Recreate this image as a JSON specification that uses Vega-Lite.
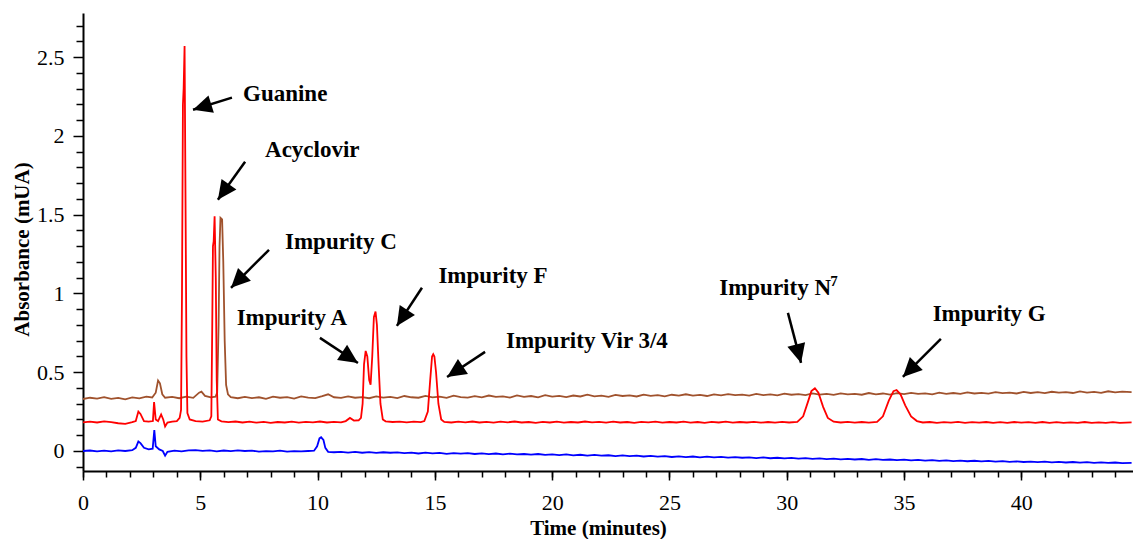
{
  "$schema": "https://vega.github.io/schema/vega-lite/v6.json",
  "autosize": {"type": "none"},
  "padding": {"left": 83, "top": 13, "right": 0, "bottom": 68},
  "width": 1050,
  "height": 458,
  "background": "white",
  "config": {"view": {"stroke": null}, "axis": {"labelFont": "'Liberation Serif', 'Times New Roman', serif", "titleFont": "'Liberation Serif', serif"}, "font": "'Liberation Serif', serif"},
  "datasets": {
    "brown": [
      {"t":0.0,"a":0.330},{"t":0.3,"a":0.338},{"t":0.6,"a":0.333},{"t":0.9,"a":0.342},{"t":1.2,"a":0.331},{"t":1.5,"a":0.337},{"t":1.8,"a":0.328},{"t":2.1,"a":0.340},{"t":2.4,"a":0.334},{"t":2.7,"a":0.345},{"t":2.95,"a":0.340},{"t":3.1,"a":0.37},{"t":3.2,"a":0.447},{"t":3.28,"a":0.43},{"t":3.38,"a":0.36},{"t":3.5,"a":0.338},{"t":3.8,"a":0.343},{"t":4.1,"a":0.335},{"t":4.4,"a":0.345},{"t":4.7,"a":0.337},{"t":4.95,"a":0.37},{"t":5.05,"a":0.377},{"t":5.2,"a":0.35},{"t":5.45,"a":0.34},{"t":5.65,"a":0.345},{"t":5.72,"a":0.37},{"t":5.78,"a":0.8},{"t":5.82,"a":1.3},{"t":5.86,"a":1.48},{"t":5.93,"a":1.47},{"t":5.98,"a":1.2},{"t":6.04,"a":0.7},{"t":6.1,"a":0.42},{"t":6.18,"a":0.36},{"t":6.3,"a":0.342},{"t":6.6,"a":0.335},{"t":6.9,"a":0.344},{"t":7.2,"a":0.336},{"t":7.5,"a":0.341},{"t":7.8,"a":0.331},{"t":8.1,"a":0.345},{"t":8.4,"a":0.338},{"t":8.7,"a":0.342},{"t":9.0,"a":0.333},{"t":9.3,"a":0.347},{"t":9.6,"a":0.339},{"t":9.9,"a":0.336},{"t":10.2,"a":0.348},{"t":10.45,"a":0.36},{"t":10.7,"a":0.341},{"t":11.0,"a":0.337},{"t":11.3,"a":0.346},{"t":11.6,"a":0.338},{"t":11.9,"a":0.342},{"t":12.2,"a":0.335},{"t":12.5,"a":0.347},{"t":12.8,"a":0.339},{"t":13.1,"a":0.344},{"t":13.4,"a":0.336},{"t":13.7,"a":0.349},{"t":14.0,"a":0.341},{"t":14.3,"a":0.338},{"t":14.6,"a":0.35},{"t":14.9,"a":0.34},{"t":15.2,"a":0.345},{"t":15.5,"a":0.337},{"t":15.8,"a":0.351},{"t":16.1,"a":0.342},{"t":16.4,"a":0.339},{"t":16.7,"a":0.348},{"t":17.0,"a":0.341},{"t":17.3,"a":0.352},{"t":17.6,"a":0.343},{"t":17.9,"a":0.347},{"t":18.2,"a":0.339},{"t":18.5,"a":0.353},{"t":18.8,"a":0.344},{"t":19.1,"a":0.349},{"t":19.4,"a":0.341},{"t":19.7,"a":0.354},{"t":20.0,"a":0.345},{"t":20.3,"a":0.35},{"t":20.6,"a":0.342},{"t":20.9,"a":0.352},{"t":21.2,"a":0.346},{"t":21.5,"a":0.357},{"t":21.8,"a":0.347},{"t":22.1,"a":0.351},{"t":22.4,"a":0.344},{"t":22.7,"a":0.356},{"t":23.0,"a":0.349},{"t":23.3,"a":0.353},{"t":23.6,"a":0.346},{"t":23.9,"a":0.358},{"t":24.2,"a":0.35},{"t":24.5,"a":0.355},{"t":24.8,"a":0.347},{"t":25.1,"a":0.357},{"t":25.4,"a":0.351},{"t":25.7,"a":0.36},{"t":26.0,"a":0.352},{"t":26.3,"a":0.356},{"t":26.6,"a":0.349},{"t":26.9,"a":0.359},{"t":27.2,"a":0.353},{"t":27.5,"a":0.361},{"t":27.8,"a":0.354},{"t":28.1,"a":0.358},{"t":28.4,"a":0.351},{"t":28.7,"a":0.362},{"t":29.0,"a":0.355},{"t":29.3,"a":0.359},{"t":29.6,"a":0.353},{"t":29.9,"a":0.364},{"t":30.2,"a":0.357},{"t":30.5,"a":0.361},{"t":30.8,"a":0.355},{"t":31.1,"a":0.365},{"t":31.4,"a":0.358},{"t":31.7,"a":0.362},{"t":32.0,"a":0.356},{"t":32.3,"a":0.366},{"t":32.6,"a":0.359},{"t":32.9,"a":0.363},{"t":33.2,"a":0.357},{"t":33.5,"a":0.368},{"t":33.8,"a":0.36},{"t":34.1,"a":0.365},{"t":34.4,"a":0.358},{"t":34.7,"a":0.367},{"t":35.0,"a":0.361},{"t":35.3,"a":0.369},{"t":35.6,"a":0.362},{"t":35.9,"a":0.366},{"t":36.2,"a":0.36},{"t":36.5,"a":0.37},{"t":36.8,"a":0.363},{"t":37.1,"a":0.368},{"t":37.4,"a":0.362},{"t":37.7,"a":0.372},{"t":38.0,"a":0.365},{"t":38.3,"a":0.369},{"t":38.6,"a":0.364},{"t":38.9,"a":0.374},{"t":39.2,"a":0.367},{"t":39.5,"a":0.371},{"t":39.8,"a":0.365},{"t":40.1,"a":0.375},{"t":40.4,"a":0.368},{"t":40.7,"a":0.373},{"t":41.0,"a":0.367},{"t":41.3,"a":0.376},{"t":41.6,"a":0.37},{"t":41.9,"a":0.374},{"t":42.2,"a":0.368},{"t":42.5,"a":0.378},{"t":42.8,"a":0.371},{"t":43.1,"a":0.375},{"t":43.4,"a":0.369},{"t":43.7,"a":0.379},{"t":44.0,"a":0.372},{"t":44.3,"a":0.377},{"t":44.7,"a":0.374}
    ],
    "red": [
      {"t":0.0,"a":0.182},{"t":0.3,"a":0.186},{"t":0.6,"a":0.181},{"t":0.9,"a":0.188},{"t":1.2,"a":0.183},{"t":1.5,"a":0.176},{"t":1.8,"a":0.172},{"t":2.1,"a":0.183},{"t":2.25,"a":0.19},{"t":2.36,"a":0.25},{"t":2.45,"a":0.235},{"t":2.6,"a":0.19},{"t":2.8,"a":0.186},{"t":2.98,"a":0.19},{"t":3.03,"a":0.31},{"t":3.1,"a":0.2},{"t":3.2,"a":0.19},{"t":3.33,"a":0.232},{"t":3.42,"a":0.2},{"t":3.5,"a":0.155},{"t":3.6,"a":0.18},{"t":3.8,"a":0.186},{"t":4.0,"a":0.19},{"t":4.12,"a":0.21},{"t":4.18,"a":0.26},{"t":4.22,"a":1.0},{"t":4.26,"a":2.2},{"t":4.29,"a":2.3},{"t":4.33,"a":2.57},{"t":4.37,"a":1.6},{"t":4.41,"a":0.6},{"t":4.45,"a":0.24},{"t":4.55,"a":0.2},{"t":4.8,"a":0.19},{"t":5.1,"a":0.187},{"t":5.4,"a":0.195},{"t":5.47,"a":0.22},{"t":5.51,"a":0.8},{"t":5.54,"a":1.3},{"t":5.57,"a":1.33},{"t":5.61,"a":1.49},{"t":5.66,"a":1.1},{"t":5.7,"a":0.45},{"t":5.75,"a":0.2},{"t":5.9,"a":0.188},{"t":6.2,"a":0.183},{"t":6.5,"a":0.187},{"t":6.8,"a":0.181},{"t":7.1,"a":0.186},{"t":7.4,"a":0.18},{"t":7.7,"a":0.185},{"t":8.0,"a":0.179},{"t":8.3,"a":0.184},{"t":8.6,"a":0.181},{"t":8.9,"a":0.186},{"t":9.2,"a":0.18},{"t":9.5,"a":0.185},{"t":9.8,"a":0.182},{"t":10.1,"a":0.187},{"t":10.4,"a":0.181},{"t":10.7,"a":0.185},{"t":11.0,"a":0.182},{"t":11.2,"a":0.19},{"t":11.38,"a":0.21},{"t":11.55,"a":0.193},{"t":11.75,"a":0.195},{"t":11.85,"a":0.21},{"t":11.92,"a":0.3},{"t":11.98,"a":0.55},{"t":12.05,"a":0.635},{"t":12.12,"a":0.6},{"t":12.2,"a":0.45},{"t":12.26,"a":0.42},{"t":12.33,"a":0.6},{"t":12.4,"a":0.85},{"t":12.47,"a":0.885},{"t":12.53,"a":0.8},{"t":12.6,"a":0.55},{"t":12.68,"a":0.3},{"t":12.78,"a":0.2},{"t":12.9,"a":0.188},{"t":13.2,"a":0.184},{"t":13.5,"a":0.187},{"t":13.8,"a":0.182},{"t":14.1,"a":0.186},{"t":14.4,"a":0.183},{"t":14.55,"a":0.19},{"t":14.7,"a":0.25},{"t":14.8,"a":0.45},{"t":14.88,"a":0.6},{"t":14.93,"a":0.614},{"t":14.98,"a":0.6},{"t":15.05,"a":0.5},{"t":15.15,"a":0.3},{"t":15.27,"a":0.2},{"t":15.4,"a":0.185},{"t":15.7,"a":0.181},{"t":16.0,"a":0.186},{"t":16.3,"a":0.182},{"t":16.6,"a":0.187},{"t":16.9,"a":0.181},{"t":17.2,"a":0.185},{"t":17.5,"a":0.18},{"t":17.8,"a":0.186},{"t":18.1,"a":0.182},{"t":18.4,"a":0.187},{"t":18.7,"a":0.181},{"t":19.0,"a":0.184},{"t":19.3,"a":0.179},{"t":19.6,"a":0.185},{"t":19.9,"a":0.181},{"t":20.2,"a":0.186},{"t":20.5,"a":0.18},{"t":20.8,"a":0.184},{"t":21.1,"a":0.181},{"t":21.4,"a":0.187},{"t":21.7,"a":0.182},{"t":22.0,"a":0.185},{"t":22.3,"a":0.18},{"t":22.6,"a":0.186},{"t":22.9,"a":0.181},{"t":23.2,"a":0.184},{"t":23.5,"a":0.179},{"t":23.8,"a":0.185},{"t":24.1,"a":0.182},{"t":24.4,"a":0.186},{"t":24.7,"a":0.18},{"t":25.0,"a":0.184},{"t":25.3,"a":0.181},{"t":25.6,"a":0.186},{"t":25.9,"a":0.18},{"t":26.2,"a":0.184},{"t":26.5,"a":0.179},{"t":26.8,"a":0.185},{"t":27.1,"a":0.181},{"t":27.4,"a":0.186},{"t":27.7,"a":0.18},{"t":28.0,"a":0.184},{"t":28.3,"a":0.181},{"t":28.6,"a":0.185},{"t":28.9,"a":0.18},{"t":29.2,"a":0.184},{"t":29.5,"a":0.18},{"t":29.8,"a":0.185},{"t":30.1,"a":0.181},{"t":30.45,"a":0.185},{"t":30.7,"a":0.22},{"t":30.9,"a":0.31},{"t":31.05,"a":0.38},{"t":31.2,"a":0.398},{"t":31.35,"a":0.37},{"t":31.55,"a":0.28},{"t":31.75,"a":0.21},{"t":32.0,"a":0.186},{"t":32.3,"a":0.181},{"t":32.6,"a":0.185},{"t":32.9,"a":0.18},{"t":33.2,"a":0.184},{"t":33.5,"a":0.18},{"t":33.85,"a":0.184},{"t":34.1,"a":0.22},{"t":34.35,"a":0.32},{"t":34.55,"a":0.38},{"t":34.68,"a":0.387},{"t":34.85,"a":0.36},{"t":35.05,"a":0.29},{"t":35.3,"a":0.22},{"t":35.55,"a":0.19},{"t":35.8,"a":0.181},{"t":36.1,"a":0.184},{"t":36.4,"a":0.179},{"t":36.7,"a":0.183},{"t":37.0,"a":0.18},{"t":37.3,"a":0.185},{"t":37.6,"a":0.179},{"t":37.9,"a":0.183},{"t":38.2,"a":0.18},{"t":38.5,"a":0.184},{"t":38.8,"a":0.178},{"t":39.1,"a":0.183},{"t":39.4,"a":0.179},{"t":39.7,"a":0.184},{"t":40.0,"a":0.18},{"t":40.3,"a":0.183},{"t":40.6,"a":0.178},{"t":40.9,"a":0.184},{"t":41.2,"a":0.179},{"t":41.5,"a":0.183},{"t":41.8,"a":0.178},{"t":42.1,"a":0.182},{"t":42.4,"a":0.179},{"t":42.7,"a":0.184},{"t":43.0,"a":0.178},{"t":43.3,"a":0.182},{"t":43.6,"a":0.179},{"t":43.9,"a":0.183},{"t":44.2,"a":0.178},{"t":44.7,"a":0.181}
    ],
    "blue": [
      {"t":0.0,"a":0.0},{"t":0.3,"a":0.003},{"t":0.6,"a":-0.002},{"t":0.9,"a":0.002},{"t":1.2,"a":-0.003},{"t":1.5,"a":0.004},{"t":1.8,"a":0.0},{"t":2.1,"a":0.005},{"t":2.25,"a":0.02},{"t":2.36,"a":0.06},{"t":2.45,"a":0.05},{"t":2.6,"a":0.02},{"t":2.8,"a":0.01},{"t":2.97,"a":0.015},{"t":3.04,"a":0.133},{"t":3.1,"a":0.03},{"t":3.25,"a":0.01},{"t":3.4,"a":0.0},{"t":3.5,"a":-0.03},{"t":3.6,"a":-0.005},{"t":3.9,"a":0.002},{"t":4.2,"a":-0.003},{"t":4.5,"a":0.004},{"t":4.8,"a":0.006},{"t":5.1,"a":0.001},{"t":5.4,"a":0.004},{"t":5.7,"a":-0.002},{"t":6.0,"a":0.003},{"t":6.3,"a":-0.001},{"t":6.6,"a":0.004},{"t":6.9,"a":0.0},{"t":7.2,"a":0.002},{"t":7.5,"a":-0.004},{"t":7.8,"a":-0.001},{"t":8.1,"a":-0.003},{"t":8.4,"a":0.002},{"t":8.7,"a":-0.004},{"t":9.0,"a":-0.001},{"t":9.3,"a":-0.003},{"t":9.6,"a":0.0},{"t":9.85,"a":0.002},{"t":9.98,"a":0.03},{"t":10.08,"a":0.08},{"t":10.15,"a":0.087},{"t":10.25,"a":0.07},{"t":10.33,"a":0.02},{"t":10.45,"a":-0.005},{"t":10.7,"a":-0.008},{"t":11.0,"a":-0.005},{"t":11.3,"a":-0.01},{"t":11.6,"a":-0.006},{"t":11.9,"a":-0.011},{"t":12.2,"a":-0.007},{"t":12.5,"a":-0.012},{"t":12.8,"a":-0.008},{"t":13.1,"a":-0.011},{"t":13.4,"a":-0.009},{"t":13.7,"a":-0.014},{"t":14.0,"a":-0.01},{"t":14.3,"a":-0.016},{"t":14.6,"a":-0.011},{"t":14.9,"a":-0.015},{"t":15.2,"a":-0.012},{"t":15.5,"a":-0.018},{"t":15.8,"a":-0.014},{"t":16.1,"a":-0.017},{"t":16.4,"a":-0.013},{"t":16.7,"a":-0.019},{"t":17.0,"a":-0.015},{"t":17.3,"a":-0.02},{"t":17.6,"a":-0.016},{"t":17.9,"a":-0.021},{"t":18.2,"a":-0.017},{"t":18.5,"a":-0.022},{"t":18.8,"a":-0.019},{"t":19.1,"a":-0.023},{"t":19.4,"a":-0.019},{"t":19.7,"a":-0.025},{"t":20.0,"a":-0.021},{"t":20.3,"a":-0.026},{"t":20.6,"a":-0.022},{"t":20.9,"a":-0.028},{"t":21.2,"a":-0.024},{"t":21.5,"a":-0.029},{"t":21.8,"a":-0.025},{"t":22.1,"a":-0.03},{"t":22.4,"a":-0.027},{"t":22.7,"a":-0.032},{"t":23.0,"a":-0.028},{"t":23.3,"a":-0.033},{"t":23.6,"a":-0.03},{"t":23.9,"a":-0.035},{"t":24.2,"a":-0.031},{"t":24.5,"a":-0.036},{"t":24.8,"a":-0.032},{"t":25.1,"a":-0.038},{"t":25.4,"a":-0.034},{"t":25.7,"a":-0.039},{"t":26.0,"a":-0.035},{"t":26.3,"a":-0.04},{"t":26.6,"a":-0.036},{"t":26.9,"a":-0.041},{"t":27.2,"a":-0.037},{"t":27.5,"a":-0.042},{"t":27.8,"a":-0.039},{"t":28.1,"a":-0.043},{"t":28.4,"a":-0.04},{"t":28.7,"a":-0.045},{"t":29.0,"a":-0.041},{"t":29.3,"a":-0.046},{"t":29.6,"a":-0.043},{"t":29.9,"a":-0.047},{"t":30.2,"a":-0.044},{"t":30.5,"a":-0.049},{"t":30.8,"a":-0.045},{"t":31.1,"a":-0.05},{"t":31.4,"a":-0.047},{"t":31.7,"a":-0.051},{"t":32.0,"a":-0.048},{"t":32.3,"a":-0.053},{"t":32.6,"a":-0.05},{"t":32.9,"a":-0.054},{"t":33.2,"a":-0.051},{"t":33.5,"a":-0.056},{"t":33.8,"a":-0.052},{"t":34.1,"a":-0.057},{"t":34.4,"a":-0.054},{"t":34.7,"a":-0.058},{"t":35.0,"a":-0.055},{"t":35.3,"a":-0.06},{"t":35.6,"a":-0.057},{"t":35.9,"a":-0.061},{"t":36.2,"a":-0.058},{"t":36.5,"a":-0.063},{"t":36.8,"a":-0.059},{"t":37.1,"a":-0.064},{"t":37.4,"a":-0.061},{"t":37.7,"a":-0.065},{"t":38.0,"a":-0.062},{"t":38.3,"a":-0.066},{"t":38.6,"a":-0.063},{"t":38.9,"a":-0.068},{"t":39.2,"a":-0.064},{"t":39.5,"a":-0.069},{"t":39.8,"a":-0.066},{"t":40.1,"a":-0.07},{"t":40.4,"a":-0.067},{"t":40.7,"a":-0.071},{"t":41.0,"a":-0.068},{"t":41.3,"a":-0.072},{"t":41.6,"a":-0.069},{"t":41.9,"a":-0.073},{"t":42.2,"a":-0.07},{"t":42.5,"a":-0.074},{"t":42.8,"a":-0.071},{"t":43.1,"a":-0.075},{"t":43.4,"a":-0.072},{"t":43.7,"a":-0.076},{"t":44.0,"a":-0.073},{"t":44.3,"a":-0.077},{"t":44.7,"a":-0.075}
    ],
    "arrows": [
      {"name":"Guanine","tx":6.35,"ty":2.243,"hx":4.69,"hy":2.166},
      {"name":"Acyclovir","tx":6.91,"ty":1.836,"hx":5.75,"hy":1.595},
      {"name":"Impurity C","tx":7.93,"ty":1.277,"hx":6.31,"hy":1.036},
      {"name":"Impurity A","tx":10.10,"ty":0.718,"hx":11.72,"hy":0.559},
      {"name":"Impurity F","tx":14.45,"ty":1.036,"hx":13.38,"hy":0.794},
      {"name":"Impurity Vir 3/4","tx":17.14,"ty":0.629,"hx":15.52,"hy":0.470},
      {"name":"Impurity N7","tx":30.05,"ty":0.877,"hx":30.61,"hy":0.559},
      {"name":"Impurity G","tx":36.57,"ty":0.712,"hx":34.95,"hy":0.470}
    ],
    "labels": [
      {"label":"Guanine","x":6.82,"y":2.224},
      {"label":"Acyclovir","x":7.76,"y":1.868},
      {"label":"Impurity C","x":8.61,"y":1.281},
      {"label":"Impurity F","x":15.15,"y":1.067},
      {"label":"Impurity A","x":6.55,"y":0.80},
      {"label":"Impurity Vir 3/4","x":18.03,"y":0.654},
      {"label":"Impurity N","x":27.12,"y":0.991},
      {"label":"Impurity G","x":36.22,"y":0.828}
    ],
    "sup": [
      {"label":"7","x":31.85,"y":1.045}
    ]
  },
  "resolve": {"axis": {"x": "independent", "y": "independent"}},
  "layer": [
    {
      "data": {"name": "brown"},
      "mark": {"type": "line", "color": "#a0522d", "strokeWidth": 1.8, "interpolate": "linear"},
      "encoding": {
        "x": {"field": "t", "type": "quantitative",
          "scale": {"domain": [0, 44.76], "nice": false, "zero": false},
          "axis": {"orient": "bottom", "values": [0,5,10,15,20,25,30,35,40], "format": "d", "grid": false,
            "domainColor": "black", "domainWidth": 2, "tickColor": "black", "tickWidth": 1.5, "tickSize": 9,
            "labelFont": "'Liberation Serif', 'Times New Roman', serif", "labelFontSize": 22, "labelColor": "black", "labelPadding": 12,
            "labelFlush": false, "labelOverlap": false,
            "title": "Time (minutes)", "titleFont": "'Liberation Serif', serif", "titleFontSize": 21, "titleFontWeight": "bold",
            "titleColor": "black", "titleBaseline": "alphabetic", "titleY": 63, "titleX": 515, "titleAlign": "center", "titleAnchor": null}},
        "y": {"field": "a", "type": "quantitative",
          "scale": {"domain": [-0.127, 2.78], "nice": false, "zero": false},
          "axis": {"orient": "left", "values": [0,0.5,1,1.5,2,2.5], "format": "~g", "grid": false,
            "domainColor": "black", "domainWidth": 2, "tickColor": "black", "tickWidth": 1.5, "tickSize": 10,
            "labelFont": "'Liberation Serif', 'Times New Roman', serif", "labelFontSize": 22, "labelColor": "black", "labelPadding": 9,
            "labelFlush": false, "labelOverlap": false,
            "title": "Absorbance (mUA)", "titleFont": "'Liberation Serif', serif", "titleFontSize": 21, "titleFontWeight": "bold",
            "titleColor": "black", "titleBaseline": "alphabetic", "titleX": -55, "titleY": 236, "titleAlign": "center", "titleAnchor": null}}
      }
    },
    {
      "data": {"name": "red"},
      "mark": {"type": "line", "color": "#ff0000", "strokeWidth": 1.8},
      "encoding": {
        "x": {"field": "t", "type": "quantitative",
          "axis": {"orient": "bottom", "values": [0,1,2,3,4,5,6,7,8,9,10,11,12,13,14,15,16,17,18,19,20,21,22,23,24,25,26,27,28,29,30,31,32,33,34,35,36,37,38,39,40,41,42,43,44],
            "labels": false, "domain": false, "grid": false, "tickColor": "black", "tickWidth": 1.5, "tickSize": 6, "title": null}},
        "y": {"field": "a", "type": "quantitative",
          "axis": {"orient": "left", "values": [-0.1,0.1,0.2,0.3,0.4,0.6,0.7,0.8,0.9,1.1,1.2,1.3,1.4,1.6,1.7,1.8,1.9,2.1,2.2,2.3,2.4,2.6,2.7],
            "labels": false, "domain": false, "grid": false, "tickColor": "black", "tickWidth": 1.5, "tickSize": 7, "title": null}}
      }
    },
    {
      "data": {"name": "blue"},
      "mark": {"type": "line", "color": "#0000ff", "strokeWidth": 1.8},
      "encoding": {
        "x": {"field": "t", "type": "quantitative", "axis": null},
        "y": {"field": "a", "type": "quantitative", "axis": null}
      }
    },
    {
      "data": {"name": "arrows"},
      "mark": {"type": "rule", "color": "black", "strokeWidth": 2.5},
      "encoding": {
        "x": {"field": "tx", "type": "quantitative", "axis": null},
        "y": {"field": "ty", "type": "quantitative", "axis": null},
        "x2": {"field": "hx"},
        "y2": {"field": "hy"}
      }
    },
    {
      "data": {"name": "arrows"},
      "transform": [{"calculate": "atan2((datum.hx-datum.tx)*23.46, (datum.hy-datum.ty)*157.4)*180/PI", "as": "ang"}],
      "mark": {"type": "point", "shape": "M0,0L-0.48,1L0.48,1Z", "filled": true, "color": "black", "opacity": 1, "size": 1444, "strokeWidth": 0},
      "encoding": {
        "x": {"field": "hx", "type": "quantitative", "axis": null},
        "y": {"field": "hy", "type": "quantitative", "axis": null},
        "angle": {"field": "ang", "type": "quantitative", "scale": null}
      }
    },
    {
      "data": {"name": "labels"},
      "mark": {"type": "text", "font": "'Liberation Serif', serif", "fontSize": 23, "fontWeight": "bold", "align": "left", "baseline": "alphabetic", "color": "black"},
      "encoding": {
        "x": {"field": "x", "type": "quantitative", "axis": null},
        "y": {"field": "y", "type": "quantitative", "axis": null},
        "text": {"field": "label"}
      }
    },
    {
      "data": {"name": "sup"},
      "mark": {"type": "text", "font": "'Liberation Serif', serif", "fontSize": 15, "fontWeight": "bold", "align": "left", "baseline": "alphabetic", "color": "black"},
      "encoding": {
        "x": {"field": "x", "type": "quantitative", "axis": null},
        "y": {"field": "y", "type": "quantitative", "axis": null},
        "text": {"field": "label"}
      }
    }
  ]
}
